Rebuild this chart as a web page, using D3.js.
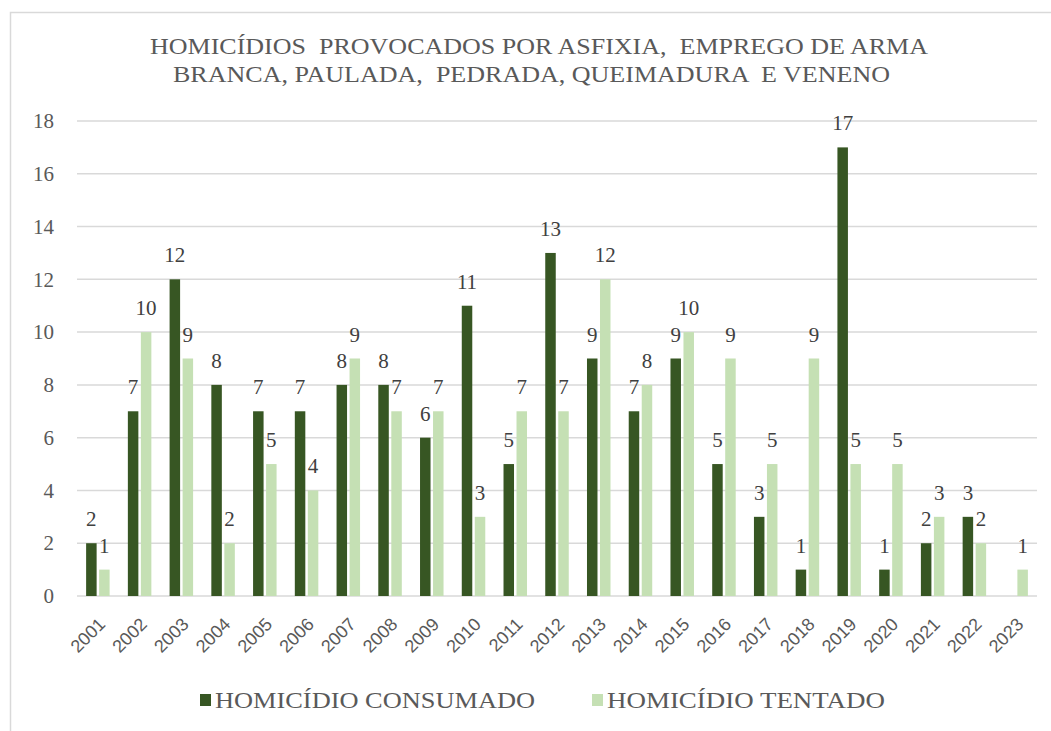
<!DOCTYPE html>
<html>
<head>
<meta charset="utf-8">
<script src="https://cdn.jsdelivr.net/npm/d3@7"></script>
<style>
  body { margin: 0; background: #fff; }
  svg { display: block; }
  .serif { font-family: "Liberation Serif", "Times New Roman", serif; }
  .sans { font-family: "Liberation Sans", Arial, sans-serif; }
</style>
</head>
<body>
<svg id="chart" width="1051" height="731"></svg>
<script>
const years = ["2001","2002","2003","2004","2005","2006","2007","2008","2009","2010","2011","2012",
               "2013","2014","2015","2016","2017","2018","2019","2020","2021","2022","2023"];
const consumado = [2,7,12,8,7,7,8,8,6,11,5,13,9,7,9,5,3,1,17,1,2,3,0];
const tentado   = [1,10,9,2,5,4,9,7,7,3,7,7,12,8,10,9,5,9,5,5,3,2,1];
const seriesNames = ["HOMICÍDIO CONSUMADO", "HOMICÍDIO TENTADO"];
const seriesColors = ["#375623", "#C5E0B4"];
const yTicks = [0,2,4,6,8,10,12,14,16,18];
const titleLines = ["HOMICÍDIOS  PROVOCADOS POR ASFIXIA,  EMPREGO DE ARMA",
                    "BRANCA, PAULADA,  PEDRADA, QUEIMADURA  E VENENO"];

const svg = d3.select("#chart");
const textColor = "#595959";

// chart frame
svg.append("rect")
    .attr("x", 10.5).attr("y", 12.5)
    .attr("width", 1060).attr("height", 740)
    .attr("fill", "#fff").attr("stroke", "#d9d9d9").attr("stroke-width", 1.5);

const margin = { left: 77, right: 1037, top: 121, bottom: 596 };

const x = d3.scaleBand().domain(years).range([margin.left, margin.right]);
const y = d3.scaleLinear().domain([0, 18]).range([margin.bottom, margin.top]);

// title (spread to the width the original occupies)
const titleBox = [{ x: 150, y: 54, w: 778 }, { x: 173, y: 82, w: 717 }];
const title = svg.append("text")
    .attr("class", "serif")
    .attr("font-size", 24)
    .attr("fill", textColor)
    .attr("xml:space", "preserve");
titleLines.forEach((t, i) => {
    title.append("tspan")
        .attr("x", titleBox[i].x).attr("y", titleBox[i].y)
        .attr("textLength", titleBox[i].w)
        .attr("lengthAdjust", "spacingAndGlyphs")
        .text(t);
});

// gridlines
svg.append("g")
    .selectAll("line").data(yTicks).join("line")
    .attr("x1", margin.left).attr("x2", margin.right)
    .attr("y1", d => y(d)).attr("y2", d => y(d))
    .attr("stroke", "#d9d9d9").attr("stroke-width", 1.5);

// y axis
const yAxis = svg.append("g")
    .attr("transform", `translate(${margin.left - 23},0)`)
    .call(d3.axisLeft(y).tickValues(yTicks).tickSize(0).tickPadding(0));
yAxis.attr("font-family", null).attr("font-size", null).attr("class", "serif");
yAxis.select(".domain").remove();
yAxis.selectAll("text")
    .attr("font-size", 21)
    .attr("fill", textColor);

// x axis labels, rotated
const xg = svg.append("g").attr("class", "sans");
years.forEach(yr => {
    const cx = x(yr) + x.bandwidth() / 2 + 4;
    xg.append("g")
        .attr("transform", `translate(${cx},${margin.bottom + 25}) rotate(-45)`)
        .append("text")
        .attr("text-anchor", "end")
        .attr("dy", "0.35em")
        .attr("font-size", 18)
        .attr("fill", textColor)
        .text(yr);
});

// bars
const barW = 10.5, gap = 2.5;
const data = [consumado, tentado];
data.forEach((vals, s) => {
    const offset = s === 0 ? -barW - gap / 2 : gap / 2;
    const pts = vals.map((v, i) => ({ v, yr: years[i] }));
    const g = svg.append("g");
    g.selectAll("rect").data(pts).join("rect")
        .attr("x", d => x(d.yr) + x.bandwidth() / 2 + offset)
        .attr("y", d => y(d.v))
        .attr("width", barW)
        .attr("height", d => y(0) - y(d.v))
        .attr("fill", seriesColors[s]);
    g.selectAll("text").data(pts.filter(d => d.v > 0)).join("text")
        .attr("class", "serif")
        .attr("x", d => x(d.yr) + x.bandwidth() / 2 + offset + barW / 2)
        .attr("y", d => y(d.v) - 17)
        .attr("text-anchor", "middle")
        .attr("font-size", 21)
        .attr("fill", "#404040")
        .text(d => d.v);
});

// legend
const legendItems = [{ x: 200, w: 320 }, { x: 592, w: 278 }];
const legend = svg.append("g").attr("class", "serif");
seriesNames.forEach((name, i) => {
    const it = legendItems[i];
    legend.append("rect")
        .attr("x", it.x).attr("y", 694)
        .attr("width", 11).attr("height", 12)
        .attr("fill", seriesColors[i]);
    legend.append("text")
        .attr("x", it.x + 15).attr("y", 708)
        .attr("font-size", 24)
        .attr("textLength", it.w)
        .attr("lengthAdjust", "spacingAndGlyphs")
        .attr("fill", textColor)
        .text(name);
});
</script>
</body>
</html>
